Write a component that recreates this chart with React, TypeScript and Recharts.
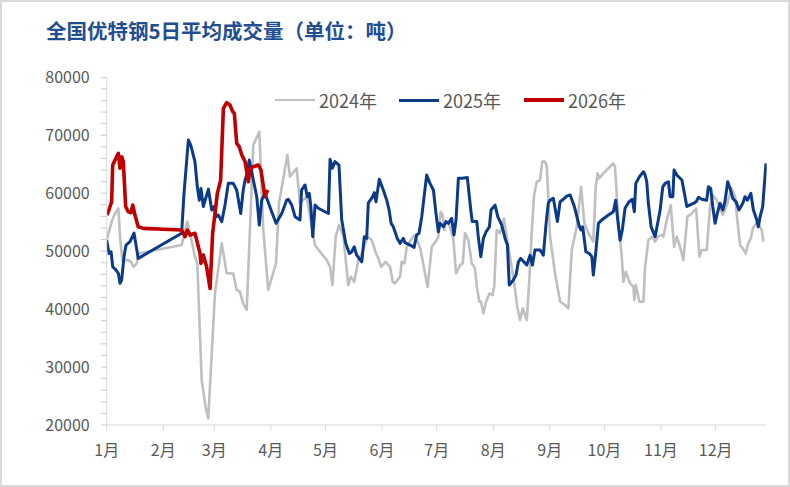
import React from 'react';
import { LineChart, Line, XAxis, YAxis } from 'recharts';

const monthTicks = [0, 31, 59, 90, 120, 151, 181, 212, 243, 273, 304, 334];
const monthLabels = ['1月', '2月', '3月', '4月', '5月', '6月', '7月', '8月', '9月', '10月', '11月', '12月'];
const yTicks = [20000, 22000, 24000, 26000, 28000, 30000, 32000, 34000, 36000, 38000, 40000, 42000, 44000, 46000, 48000, 50000, 52000, 54000, 56000, 58000, 60000, 62000, 64000, 66000, 68000, 70000, 72000, 74000, 76000, 78000, 80000];

const days2024 = [0, 2.7, 4.6, 6.4, 7.3, 8.6, 11.8, 13.3, 14.6, 16.5, 17.3, 41.1, 44.2, 45.7, 48.4, 49.7, 52.1, 54.5, 55.7, 59.4, 63.1, 65.8, 69.4, 71.3, 73.1, 74.8, 76.8, 80.4, 83.7, 85.9, 88.6, 92.9, 94.5, 99.1, 100.5, 104.2, 106, 109.7, 114.3, 117, 120.7, 122.5, 123.8, 125.6, 127.4, 129.8, 132.5, 134, 135.8, 138, 139.9, 143.2, 145.4, 147.7, 149, 150.5, 153, 155.4, 156.9, 158.1, 160.9, 161.8, 163.3, 164.6, 167.3, 169.1, 172, 176, 178.3, 181, 181.9, 183.2, 184.3, 185.2, 186.1, 187.4, 190.1, 191.6, 193.8, 195.3, 196.5, 198.4, 200.2, 202, 203, 204.4, 205.3, 206.6, 208.1, 209.9, 211.7, 212.6, 213.9, 215.7, 217.9, 219.7, 223, 225.2, 226.7, 228.2, 230.4, 231.8, 233.1, 234.4, 235.9, 237.7, 238.9, 240.4, 241.4, 243.2, 245.9, 248.7, 251.4, 253.2, 255.1, 257.8, 260.2, 262, 264.2, 266.9, 268.2, 269.3, 270.1, 272.4, 275.2, 277.9, 278.8, 281, 282.5, 283.4, 284.7, 287.1, 288.9, 289.4, 290.2, 292.2, 294.4, 295.3, 297.1, 299.3, 300.8, 302.3, 304.5, 305.3, 307.2, 309.4, 311.2, 312.7, 314.5, 316.3, 318.5, 320.9, 323.3, 325.1, 326.4, 329.1, 330.9, 332.4, 334.6, 336.4, 337.9, 340.1, 342.8, 344.7, 345.9, 347.4, 348.9, 350.5, 351.9, 353.3, 354.4, 355.6, 356.9, 358.4, 359.3, 360.2];
const vals2024 = [51900, 55100, 56500, 57400, 52500, 48450, 48450, 48150, 47300, 47900, 49600, 51050, 55100, 53100, 49050, 47900, 27750, 22600, 21150, 42800, 51350, 46200, 46150, 43300, 43000, 41000, 39850, 68300, 70600, 53650, 43300, 47950, 58250, 66600, 62850, 64300, 58300, 59400, 51000, 49900, 48450, 47300, 44150, 52500, 54500, 52500, 44150, 45600, 44700, 48450, 49600, 52500, 51900, 49600, 48750, 47300, 48150, 47300, 44700, 44450, 45600, 48150, 47900, 50750, 52200, 52800, 50500, 43800, 50750, 51900, 52500, 56800, 56230, 53650, 55100, 55000, 52200, 46150, 47600, 47900, 53100, 51900, 47900, 47030, 43860, 41270, 41270, 39270, 41270, 42700, 42420, 44000, 53650, 53080, 55650, 51900, 45600, 40400, 38100, 40130, 38100, 45000, 53100, 59700, 61980, 62270, 65450, 65450, 64570, 52500, 46150, 41270, 40700, 40130, 50200, 54200, 61100, 54800, 53100, 51630, 61100, 63430, 62570, 63430, 64300, 65150, 64570, 53650, 49050, 44700, 46430, 44450, 43860, 41550, 44150, 41270, 41270, 47300, 51900, 52500, 51630, 52500, 52800, 52500, 55370, 57950, 50750, 52500, 50750, 48450, 55950, 56500, 57400, 49050, 50200, 50200, 57700, 59700, 58800, 57400, 56230, 57950, 60830, 59400, 55370, 51050, 50480, 49600, 51350, 52200, 53930, 54500, 55100, 54200, 53650, 51630];

const days2025 = [0, 1.3, 2.4, 2.7, 3.3, 5.1, 6.4, 7.3, 8.2, 9.5, 10.6, 12.8, 15, 17.3, 41.1, 42.4, 43.3, 44.8, 46.1, 48.4, 49.7, 50.8, 51.7, 53, 55.8, 57.6, 58.9, 60, 61.2, 63.1, 64.9, 66.7, 69.4, 71.3, 73.5, 74.9, 75.9, 76.8, 78.2, 79.5, 82.3, 83.7, 85, 86.8, 90.5, 92.9, 96, 98.7, 99.6, 101.5, 103.3, 106, 106.9, 108.8, 110, 111.1, 111.9, 113, 114.3, 116.1, 121.6, 122.5, 123.8, 125.2, 127.4, 128.9, 131.1, 133.1, 134.4, 135.8, 137.1, 139.9, 141.3, 142.6, 143.5, 145.7, 146.8, 147.7, 149.5, 151.7, 153.6, 154.9, 156, 157.2, 159.4, 160.9, 162.7, 163.6, 166.4, 168.6, 170, 171.3, 172.8, 175.5, 177.3, 179.2, 180.6, 181.9, 182.8, 184.7, 186.1, 187.4, 189.2, 190.5, 191.6, 192.9, 195.1, 197.8, 199.7, 200.5, 203, 203.8, 205.2, 206.6, 208.1, 209.9, 210.8, 213, 214.5, 216.7, 218.5, 219.8, 220.8, 223, 224.5, 225.8, 227.1, 230.4, 232.2, 233.5, 234.9, 237.7, 239.5, 241, 242.2, 243.2, 245, 247.2, 248.7, 250.5, 252.3, 254.2, 256.5, 259.3, 260.2, 261.1, 262.8, 264.7, 266.1, 266.9, 268.2, 269.7, 271.5, 275.2, 277.9, 279.2, 280.3, 281.6, 282.8, 284.3, 286.5, 288.3, 289.4, 290.2, 292.2, 294.4, 295.3, 296.2, 297.1, 298.6, 300.8, 303.5, 305, 306.3, 308.1, 309, 310.5, 311.2, 312.7, 315.5, 316.7, 318.2, 319.6, 321.8, 323.3, 324.6, 326.4, 329.1, 330, 331.3, 332.4, 333.7, 334.9, 336.4, 337.9, 339.1, 340.6, 341.9, 343.4, 345.2, 346.8, 348.9, 350.1, 351.4, 353.3, 354.7, 356.6, 357.4, 358.4, 359.8, 361.6];
const vals2025 = [51900, 49600, 49900, 49050, 47300, 46730, 46150, 44450, 45000, 49050, 51050, 51630, 53100, 48750, 53100, 59980, 63430, 69180, 68300, 65450, 61100, 58800, 60830, 57700, 60700, 57100, 57700, 55950, 56230, 55100, 57950, 61700, 61700, 60550, 56500, 60550, 62270, 63140, 65730, 63710, 59400, 54500, 58800, 59980, 56800, 54800, 56500, 58800, 58950, 57950, 55950, 55370, 60550, 61420, 59400, 59980, 57950, 52500, 57950, 57400, 56500, 65850, 64300, 65450, 64860, 55400, 51350, 49600, 49900, 50750, 49300, 48150, 52500, 52200, 58350, 59300, 60100, 58530, 62400, 60550, 58800, 57100, 54800, 54220, 52200, 51350, 52200, 51460, 51050, 50650, 52800, 53080, 55950, 63150, 61700, 60550, 56500, 53350, 54800, 54220, 55100, 54800, 55650, 52800, 55370, 62580, 62580, 62700, 57100, 55100, 55100, 52500, 49050, 52200, 53350, 54200, 57100, 57950, 55950, 54500, 52200, 51050, 44150, 45000, 45880, 48150, 48750, 47600, 49300, 47600, 50200, 50200, 49300, 54800, 58250, 58800, 59100, 55100, 58530, 58950, 59500, 59700, 57700, 54200, 53650, 54200, 49900, 49600, 49050, 45880, 49600, 54800, 55370, 56230, 56800, 58800, 55370, 51900, 53650, 57400, 58530, 58950, 56800, 61700, 62850, 63700, 63140, 61980, 58250, 54200, 52500, 57000, 61100, 61700, 61980, 59400, 59400, 64000, 63140, 62270, 60250, 57700, 57950, 58250, 58530, 59300, 58950, 58800, 61100, 60830, 57700, 54800, 56500, 58250, 57100, 58530, 61980, 60830, 59100, 58530, 57100, 58250, 59400, 58800, 59980, 57100, 55370, 54200, 55950, 57700, 65150];

const days2026 = [0, 0.9, 2.7, 3.3, 4.6, 6.4, 7.3, 8.2, 9.1, 10.4, 11.8, 13.3, 14.3, 15.5, 17.3, 20.1, 41.1, 43, 44.2, 45.7, 48.4, 51.2, 51.7, 53, 54.8, 56.7, 58.1, 59.4, 60.7, 62.5, 64, 65.8, 67.6, 69.1, 70, 71.3, 72.7, 74.1, 75.9, 77.7, 78.6, 80.4, 83.2, 84.6, 86.8, 88.3];
const vals2026 = [56230, 56800, 58530, 64860, 65730, 66880, 64300, 66300, 65450, 57700, 56800, 56630, 57950, 56230, 54200, 53930, 53650, 52500, 53650, 52780, 53080, 49600, 47900, 49320, 47300, 43580, 53080, 56500, 59980, 62270, 74650, 75620, 75220, 74070, 73800, 68610, 68030, 66590, 65450, 61980, 64300, 64570, 64860, 64000, 59400, 60550];

const toPoints = (days: number[], vals: number[]) => days.map((d, i) => ({ d, v: vals[i] }));
const pts2024 = toPoints(days2024, vals2024);
const pts2025 = toPoints(days2025, vals2025);
const pts2026 = toPoints(days2026, vals2026);

const FONT = "'Noto Sans CJK SC', 'Noto Sans', sans-serif";
const TEXT = '#595959';
const AXIS = '#d9d9d9';

const YTick = (props: any) => {
  const { x, y, payload } = props;
  if (payload.value % 10000 !== 0) return <g />;
  return (
    <text x={x} y={y} dy={5.8} textAnchor="end" fill={TEXT} fontSize={16} fontFamily={FONT}>
      {payload.value}
    </text>
  );
};

const legendItems = [
  { name: '2024年', color: '#bfbfbf', width: 2.5, left: 275 },
  { name: '2025年', color: '#0b3a8a', width: 3, left: 399 },
  { name: '2026年', color: '#c00000', width: 4, left: 524 },
];

export default function App() {
  return (
    <div style={{ position: 'absolute', left: 0, top: 0, width: 790, height: 487, background: '#fff', overflow: 'hidden' }}>
      <div
        style={{
          position: 'absolute', left: 46, top: 15, fontSize: 20.5, fontWeight: 700, color: '#1f4e91',
          fontFamily: FONT, whiteSpace: 'nowrap', lineHeight: '30px',
        }}
      >
        全国优特钢5日平均成交量（单位：吨）
      </div>
      <div style={{ position: 'absolute', left: 0, top: 0 }}>
        <LineChart width={790} height={487} margin={{ top: 77.3, right: 23.3, bottom: 32, left: 0 }}>
          <XAxis
            type="number"
            dataKey="d"
            domain={[0, 362]}
            ticks={monthTicks}
            interval={0}
            allowDataOverflow
            tickFormatter={(v: number) => monthLabels[monthTicks.indexOf(v)]}
            tick={{ fill: TEXT, fontSize: 16, fontFamily: FONT }}
            tickLine={{ stroke: AXIS }}
            axisLine={{ stroke: AXIS }}
            tickSize={6}
            tickMargin={14}
            height={30}
          />
          <YAxis
            type="number"
            domain={[20000, 80000]}
            ticks={yTicks}
            interval={0}
            allowDataOverflow
            tick={<YTick />}
            tickLine={{ stroke: '#c8c8c8' }}
            axisLine={{ stroke: AXIS }}
            tickSize={6}
            tickMargin={11}
            width={106.7}
          />
          <Line data={pts2024} dataKey="v" type="linear" stroke="#bfbfbf" strokeWidth={2.6} dot={false} activeDot={false} isAnimationActive={false} strokeLinejoin="round" />
          <Line data={pts2025} dataKey="v" type="linear" stroke="#0b3a8a" strokeWidth={3} dot={false} activeDot={false} isAnimationActive={false} strokeLinejoin="round" />
          <Line data={pts2026} dataKey="v" type="linear" stroke="#c00000" strokeWidth={3.6} dot={false} activeDot={false} isAnimationActive={false} strokeLinejoin="round" />
        </LineChart>
      </div>
      {legendItems.map((it) => (
        <div key={it.name} style={{ position: 'absolute', left: it.left, top: 88, height: 24, display: 'flex', alignItems: 'center', fontFamily: FONT, fontSize: 18, color: TEXT, whiteSpace: 'nowrap' }}>
          <span style={{ display: 'inline-block', width: 40, height: it.width, background: it.color, marginRight: 4 }} />
          <span>{it.name}</span>
        </div>
      ))}
      <div style={{ position: 'absolute', left: 0, top: 0, width: 790, height: 487, boxSizing: 'border-box', border: '2px solid #d9d9d9', pointerEvents: 'none' }} />
    </div>
  );
}
